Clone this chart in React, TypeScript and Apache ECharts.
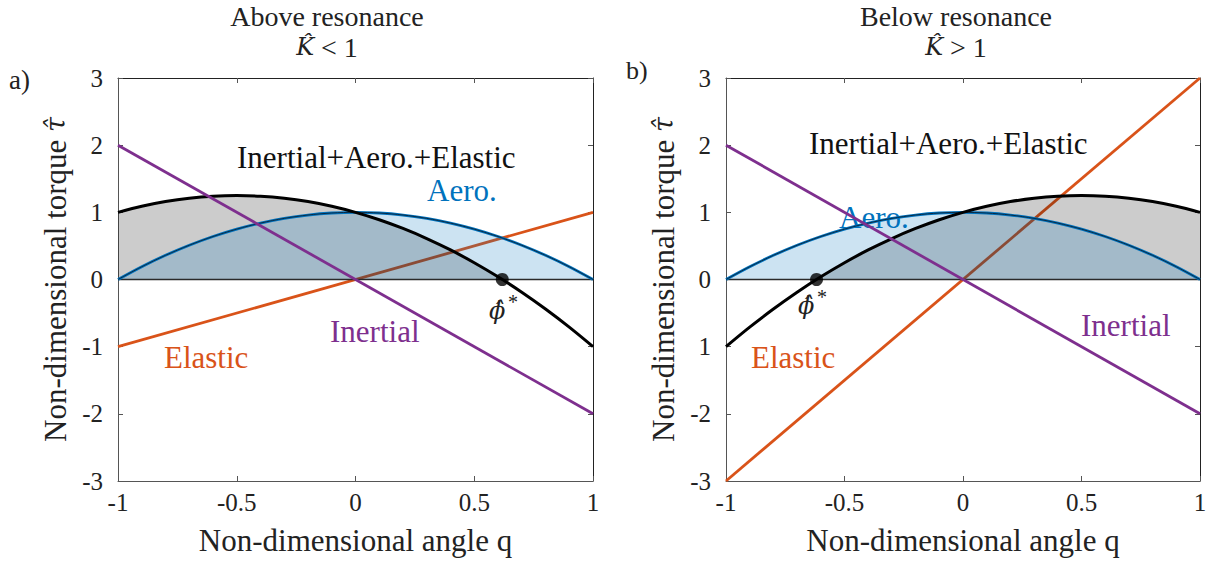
import React, { useEffect, useRef } from "react";
import * as echarts from "echarts";

// Sampled angle positions
const qValues = [-1, -0.9, -0.8, -0.7, -0.6, -0.5, -0.4, -0.3, -0.2, -0.1, 0, 0.1, 0.2, 0.3, 0.4, 0.5, 0.6, 0.7, 0.8, 0.9, 1];
// Aerodynamic torque (both panels)
const aeroValues = [0, 0.19, 0.36, 0.51, 0.64, 0.75, 0.84, 0.91, 0.96, 0.99, 1, 0.99, 0.96, 0.91, 0.84, 0.75, 0.64, 0.51, 0.36, 0.19, 0];
// Total torque, panel a (above resonance)
const totalA = [1, 1.09, 1.16, 1.21, 1.24, 1.25, 1.24, 1.21, 1.16, 1.09, 1, 0.89, 0.76, 0.61, 0.44, 0.25, 0.04, -0.19, -0.44, -0.71, -1];
// Total torque, panel b (below resonance)
const totalB = [-1, -0.71, -0.44, -0.19, 0.04, 0.25, 0.44, 0.61, 0.76, 0.89, 1, 1.09, 1.16, 1.21, 1.24, 1.25, 1.24, 1.21, 1.16, 1.09, 1];
// Straight lines: [q, value] endpoints
const elasticA = [[-1, -1], [1, 1]];
const inertialA = [[-1, 2], [1, -2]];
const elasticB = [[-1, -3], [1, 3]];
const inertialB = [[-1, 2], [1, -2]];
// Equilibrium points
const phiStarA = 0.618;
const phiStarB = -0.618;
// Tick labels
const xTicks = [-1, -0.5, 0, 0.5, 1];
const yTicksA = ["-3", "-2", "-1", "0", "1", "2", "3"];
const yTicksB = ["-3", "-2", "1", "0", "1", "2", "3"];

const FONT = "'Liberation Serif', 'Times New Roman', serif";
const HATFONT = "'DejaVu Serif', serif";
const INK = "#222";
const BLUE = "#0072BD";
const ORANGE = "#D95319";
const PURPLE = "#7E2F8E";

function pairs(vals: number[]) {
  return qValues.map((q, i) => [q, vals[i]]);
}

function positivePart(vals: number[], root: number) {
  const out: number[][] = [];
  const pts = pairs(vals);
  if (root > 0) {
    pts.filter((p) => p[0] <= root).forEach((p) => out.push(p));
    out.push([root, 0]);
  } else {
    out.push([root, 0]);
    pts.filter((p) => p[0] >= root).forEach((p) => out.push(p));
  }
  return out;
}

export default function App() {
  const ref = useRef<HTMLDivElement>(null);
  useEffect(() => {
    if (!ref.current) return;
    const chart = echarts.init(ref.current, undefined, { renderer: "svg" });
    const axisColor = "#555";
    const mkX = (gi: number) => [
      {
        type: "value", gridIndex: gi, min: -1, max: 1, interval: 0.5,
        axisLine: { show: true, onZero: false, lineStyle: { color: axisColor, width: 1 } },
        axisTick: { show: true, inside: true, length: 5, lineStyle: { color: axisColor } },
        axisLabel: { color: INK, fontFamily: FONT, fontSize: 25, margin: 9,
          formatter: (v: number) => (xTicks.includes(v) ? String(v) : "") },
        splitLine: { show: false },
        name: "Non-dimensional angle q", nameLocation: "middle", nameGap: 44,
        nameTextStyle: { color: INK, fontFamily: FONT, fontSize: 31 },
      },
      {
        type: "value", gridIndex: gi, min: -1, max: 1, interval: 0.5, position: "top",
        axisLine: { show: true, onZero: false, lineStyle: { color: "#222", width: 1 } },
        axisTick: { show: true, inside: true, length: 5, lineStyle: { color: axisColor } },
        axisLabel: { show: false }, splitLine: { show: false },
      },
    ];
    const mkY = (gi: number, labels: string[]) => [
      {
        type: "value", gridIndex: gi, min: -3, max: 3, interval: 1,
        axisLine: { show: true, onZero: false, lineStyle: { color: axisColor, width: 1 } },
        axisTick: { show: true, inside: true, length: 5, lineStyle: { color: axisColor } },
        axisLabel: { color: INK, fontFamily: FONT, fontSize: 25, margin: 15,
          formatter: (v: number) => labels[Math.round(v) + 3] },
        splitLine: { show: false },
        name: "Non-dimensional torque {i|τ̂}", nameLocation: "middle", nameGap: 47, nameRotate: 90,
        nameTextStyle: { color: INK, fontFamily: FONT, fontSize: 31,
          rich: { i: { fontFamily: HATFONT, fontSize: 27, fontStyle: "italic", color: INK } } },
      },
      {
        type: "value", gridIndex: gi, min: -3, max: 3, interval: 1, position: "right",
        axisLine: { show: true, onZero: false, lineStyle: { color: "#222", width: 1 } },
        axisTick: { show: true, inside: true, length: 5, lineStyle: { color: axisColor } },
        axisLabel: { show: false }, splitLine: { show: false },
      },
    ];

    const panel = (gi: number, total: number[], elastic: number[][], inertial: number[][], root: number) => {
      const xi = gi * 2, yi = gi * 2;
      const base = { xAxisIndex: xi, yAxisIndex: yi, symbol: "none", silent: true, clip: true };
      return [
        { ...base, type: "line", data: elastic, lineStyle: { color: ORANGE, width: 2.8 }, z: 2 },
        { ...base, type: "line", data: positivePart(total, root), smooth: 0.3,
          lineStyle: { width: 0 }, areaStyle: { color: "rgba(0,0,0,0.2)", opacity: 1 }, z: 3 },
        { ...base, type: "line", data: pairs(aeroValues), smooth: 0.3,
          lineStyle: { width: 0 }, areaStyle: { color: "rgba(0,114,189,0.2)", opacity: 1 }, z: 4 },
        { ...base, type: "line", data: [[-1, 0], [1, 0]], lineStyle: { color: "#2a2a2a", width: 1.3 }, z: 5 },
        { ...base, type: "line", data: pairs(aeroValues), smooth: 0.3, lineStyle: { color: BLUE, width: 2.8 }, z: 5 },
        { ...base, type: "line", data: pairs(aeroValues), smooth: 0.3, lineStyle: { color: "#0b2b44", width: 1 }, z: 6 },
        { ...base, type: "line", data: pairs(total), smooth: 0.3, lineStyle: { color: "#000", width: 3 }, z: 7 },
        { ...base, type: "scatter", data: [[root, 0]], symbol: "circle", symbolSize: 13,
          itemStyle: { color: "#000" }, z: 8 },
        { ...base, type: "line", data: inertial, lineStyle: { color: PURPLE, width: 2.8 }, z: 9 },
      ];
    };

    const txt = (x: number, y: number, text: string, color: string, size: number, extra: any = {}) => ({
      type: "text", x, y,
      style: { text, fill: color, fontFamily: FONT, fontSize: size, textAlign: "left", textVerticalAlign: "middle", ...extra },
    });
    const rich = { i: { fontFamily: HATFONT, fontStyle: "italic", fontSize: 24, fill: INK } };

    chart.setOption({
      animation: false,
      backgroundColor: "#fff",
      grid: [
        { left: 118, top: 78, width: 475, height: 403, outerBoundsMode: "none", containLabel: false },
        { left: 726, top: 78, width: 474, height: 403, outerBoundsMode: "none", containLabel: false },
      ],
      xAxis: [...mkX(0), ...mkX(1)],
      yAxis: [...mkY(0, yTicksA), ...mkY(1, yTicksB)],
      series: [
        ...panel(0, totalA, elasticA, inertialA, phiStarA),
        ...panel(1, totalB, elasticB, inertialB, phiStarB),
      ],
      graphic: [
        txt(327, 16, "Above resonance", INK, 28, { textAlign: "center" }),
        txt(327, 47, "{i|K̂} < 1", INK, 28, { textAlign: "center", rich }),
        txt(956, 16, "Below resonance", INK, 28, { textAlign: "center" }),
        txt(956, 47, "{i|K̂} > 1", INK, 28, { textAlign: "center", rich }),
        txt(9, 80, "a)", INK, 27),
        txt(626, 70, "b)", INK, 26),
        txt(237, 157, "Inertial+Aero.+Elastic", "#111", 31),
        txt(427, 190, "Aero.", BLUE, 31),
        txt(330, 331, "Inertial", PURPLE, 31),
        txt(164, 357, "Elastic", ORANGE, 31),
        txt(489, 311, "ϕ̂", INK, 24, { fontFamily: HATFONT, fontStyle: "italic" }),
        txt(508, 302, "*", INK, 20),
        txt(809, 143, "Inertial+Aero.+Elastic", "#111", 31),
        txt(839, 217, "Aero.", BLUE, 31),
        txt(1081, 325, "Inertial", PURPLE, 31),
        txt(751, 357, "Elastic", ORANGE, 31),
        txt(798, 306, "ϕ̂", INK, 24, { fontFamily: HATFONT, fontStyle: "italic" }),
        txt(817, 297, "*", INK, 20),
      ],
    });
    return () => chart.dispose();
  }, []);
  return <div ref={ref} style={{ position: "absolute", left: 0, top: 0, width: 1215, height: 562 }} />;
}
